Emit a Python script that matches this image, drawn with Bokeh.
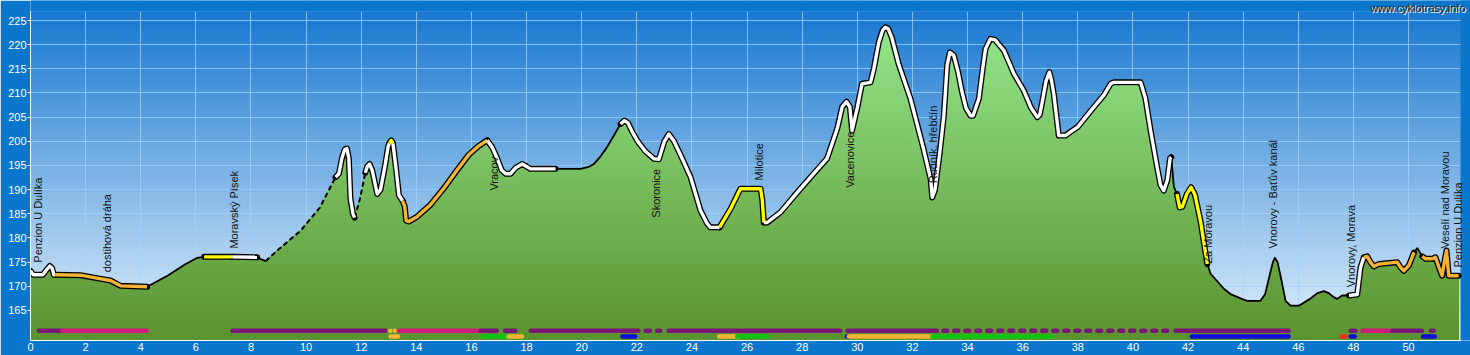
import numpy as np
from bokeh.plotting import figure
from bokeh.models import Range1d, FixedTicker
from bokeh.core.properties import value
from bokeh.embed import file_html
from bokeh.resources import INLINE

# ---------------- data ----------------
dist = [0.00, 0.10, 0.45, 0.58, 0.70, 0.78, 0.85, 0.90, 1.81, 2.40,
        2.90, 3.27, 4.23, 5.00, 5.60, 6.05, 6.30, 7.32, 8.22, 8.53,
        8.95, 9.80, 10.50, 11.07, 11.19, 11.30, 11.40, 11.48, 11.55, 11.61,
        11.70, 11.76, 11.95, 12.15, 12.22, 12.30, 12.40, 12.58, 12.70, 12.85,
        12.98, 13.02, 13.09, 13.15, 13.25, 13.37, 13.50, 13.58, 13.63, 13.72,
        14.00, 14.50, 15.00, 15.50, 15.90, 16.25, 16.57, 16.75, 16.93, 17.10,
        17.24, 17.42, 17.60, 17.84, 18.00, 18.14, 19.05, 19.96, 20.25, 20.44,
        20.70, 20.92, 21.20, 21.41, 21.55, 21.68, 21.85, 22.01, 22.30, 22.62,
        22.80, 23.00, 23.16, 23.35, 23.60, 23.95, 24.31, 24.55, 24.67, 25.00,
        25.40, 25.76, 26.49, 26.55, 26.61, 26.73, 27.21, 27.80, 28.40, 28.90,
        29.27, 29.45, 29.61, 29.73, 29.81, 29.99, 30.17, 30.48, 30.60, 30.78,
        30.92, 31.02, 31.12, 31.25, 31.50, 31.93, 32.40, 32.66, 32.72, 32.82,
        33.00, 33.14, 33.26, 33.36, 33.50, 33.65, 33.80, 33.95, 34.11, 34.20,
        34.41, 34.55, 34.65, 34.83, 35.00, 35.32, 35.68, 36.04, 36.30, 36.53,
        36.62, 36.70, 36.85, 36.97, 37.05, 37.13, 37.31, 37.55, 38.00, 38.50,
        38.94, 39.19, 39.30, 40.28, 40.45, 40.65, 40.88, 41.00, 41.12, 41.25,
        41.35, 41.39, 41.49, 41.60, 41.70, 41.80, 41.95, 42.11, 42.25, 42.45,
        42.70, 42.82, 43.30, 43.54, 44.00, 44.15, 44.63, 44.80, 44.95, 45.08,
        45.15, 45.25, 45.40, 45.54, 45.72, 46.02, 46.40, 46.70, 46.93, 47.10,
        47.30, 47.41, 47.59, 47.84, 48.14, 48.26, 48.38, 48.50, 48.62, 48.74,
        48.92, 49.59, 49.70, 49.83, 50.01, 50.20, 50.32, 50.50, 50.62, 50.86,
        50.98, 51.10, 51.22, 51.30, 51.38, 51.46, 51.82]
elev = [173.2, 172.4, 172.4, 173.4, 174.2, 173.8, 172.4, 172.4, 172.3, 171.7,
        171.2, 170.1, 169.9, 172.3, 174.5, 175.9, 176.1, 176.1, 176.0, 175.2,
        177.4, 181.5, 186.3, 192.6, 193.3, 196.5, 198.3, 198.5, 196.5, 188.1,
        185.0, 184.2, 188.0, 193.5, 194.8, 195.3, 194.0, 189.1, 190.0, 194.5,
        199.0, 199.6, 200.2, 199.6, 195.0, 188.8, 187.7, 186.5, 183.6, 183.4,
        184.3, 186.8, 190.3, 194.2, 197.2, 199.0, 200.2, 198.8, 196.5, 194.0,
        193.3, 193.3, 194.5, 195.3, 194.8, 194.3, 194.3, 194.3, 194.7, 195.3,
        197.0, 198.8, 201.5, 203.6, 204.3, 203.8, 201.8, 200.2, 198.0, 196.4,
        196.3, 200.0, 201.5, 200.0, 197.0, 192.6, 185.7, 183.0, 182.2, 182.2,
        186.0, 190.2, 190.2, 188.0, 183.2, 183.2, 185.3, 189.3, 193.2, 196.4,
        202.6, 207.1, 208.2, 207.1, 202.2, 206.7, 211.9, 212.2, 215.0, 220.5,
        223.0, 223.6, 223.3, 221.5, 216.0, 208.8, 198.5, 192.2, 188.4, 190.0,
        198.0, 205.3, 215.7, 218.4, 217.8, 214.5, 210.2, 206.8, 205.3, 205.3,
        208.8, 215.0, 219.1, 221.2, 221.0, 218.8, 214.0, 210.5, 207.0, 205.0,
        205.5, 207.8, 212.5, 214.3, 212.5, 209.8, 201.2, 201.2, 203.0, 206.5,
        209.5, 211.9, 212.2, 212.2, 209.0, 202.0, 194.6, 191.0, 189.8, 192.0,
        196.5, 196.7, 190.5, 189.1, 186.3, 186.5, 189.0, 190.5, 189.0, 183.6,
        174.6, 172.6, 169.5, 168.4, 167.3, 167.0, 167.0, 168.4, 172.0, 175.0,
        175.9, 175.0, 171.0, 167.0, 166.0, 166.0, 167.3, 168.6, 169.0, 168.6,
        167.7, 167.4, 168.1, 168.1, 168.3, 173.9, 176.0, 176.2, 175.0, 174.1,
        174.6, 175.0, 174.0, 173.2, 174.3, 177.0, 177.9, 176.2, 175.7, 175.7,
        176.0, 174.0, 172.2, 175.0, 177.4, 172.2, 172.2]

# route surface / type segments on the profile line
seg_start = [0.00, 0.90, 4.23, 6.30, 7.32, 8.22, 8.53, 11.07, 11.76, 12.15, 13.02, 13.15,
             13.50, 16.57, 19.05, 21.41, 25.00, 26.61, 41.39, 41.60, 42.70, 47.84, 48.38,
             50.20, 50.50]
seg_end = [0.90, 4.23, 6.30, 7.32, 8.22, 8.53, 11.07, 11.76, 12.15, 13.02, 13.15, 13.50,
           16.57, 19.05, 21.41, 25.00, 26.61, 41.39, 41.60, 42.70, 47.84, 48.38, 50.20,
           50.50, 51.82]
seg_style = ["white", "orange", "thin", "yellow", "white", "thin", "dash", "white", "dash",
             "white", "yellow", "white", "orange", "white", "thin", "white", "yellow",
             "white", "thin", "yellow", "thin", "white", "orange", "thin", "orange"]

# places
label_text = ["Penzion U Dulíka", "dostihová dráha", "Moravský Písek", "Vracov", "Skoronice",
              "Milotice", "Vacenovice", "Rudník, hřebčín", "Za Moravou",
              "Vnorovy - Baťův kanál", "Vnorovy, Morava", "Veselí nad Moravou",
              "Penzion U Dulíka"]
label_km = [0.29, 2.79, 7.37, 16.80, 22.71, 26.45, 29.75, 32.76, 42.74, 45.10, 47.90, 51.31, 51.81]
label_elev = [174.9, 172.9, 177.8, 189.8, 184.2, 191.9, 190.4, 191.3, 174.7, 177.8, 169.8, 177.8, 173.9]

# bottom category bars (row 1 and row 2)
bar1_start = [0.30, 1.15, 7.33, 13.05, 13.22, 13.37, 16.33, 17.22, 18.15, 22.32, 22.74, 23.15,
              29.64, 33.12, 41.55, 47.90, 48.33, 49.41, 50.81]
bar1_end = [1.15, 4.21, 12.87, 13.05, 13.22, 16.33, 16.92, 17.59, 22.06, 22.48, 22.85, 29.38,
            32.89, 41.30, 45.65, 48.07, 49.41, 50.49, 50.91]
bar1_kind = ["purple", "magenta", "purple", "orange", "orange", "magenta", "purple", "purple",
             "purple", "purple", "purple", "purple", "purple", "purple_dots", "purple",
             "purple", "magenta", "purple", "purple"]
bar2_start = [13.07, 16.40, 17.35, 21.48, 24.99, 25.64, 29.62, 29.69, 32.72, 42.14, 47.58,
              47.90, 50.53]
bar2_end = [13.33, 17.35, 17.83, 21.94, 25.64, 26.72, 29.69, 32.72, 37.06, 45.65, 47.71,
            48.04, 50.95]
bar2_kind = ["orange", "green", "orange", "blue", "orange", "green", "blue", "orange", "green",
             "blue", "red", "blue", "blue"]

x_ticks = list(range(0, 51, 2))
y_ticks = list(range(165, 226, 5))
watermark = "www.cyklotrasy.info"

# ---------------- geometry / style ----------------
PX_PER_KM = 27.56
PX_PER_M = 4.833
X_PLOT_END = 1430 / PX_PER_KM          # right edge of the chart area
X_END = 1440 / PX_PER_KM               # right edge of the canvas
Y0 = 225 - (340 - 20) / PX_PER_M       # frame bottom
Y_TOP_PLOT = 225 + (20 - 11) / PX_PER_M
Y_END = 225 + 20 / PX_PER_M

OUTER = "#0a76cc"
SKY_TOP, SKY_BOT = (24, 120, 208), (226, 240, 251)
GRN_TOP, GRN_BOT = (150, 234, 143), (90, 146, 46)
FONT = value("Liberation Sans")

COLORS = {"purple": "#7a1677", "purple_dots": "#7a1677", "magenta": "#cf1a7c",
          "orange": "#f5b335", "green": "#12c412", "blue": "#0a0ad8", "red": "#ee2a10"}
INNER = {"white": "#ffffff", "yellow": "#ffff00", "orange": "#f5b335"}


def mix(c_bot, c_top, t):
    r, g, b = (int(round(c_bot[i] + (c_top[i] - c_bot[i]) * t)) for i in range(3))
    return "#%02x%02x%02x" % (r, g, b)


d = np.array(dist)
el = np.array(elev)

p = figure(width=1470, height=355, output_backend="svg", toolbar_location=None,
           x_range=Range1d(0, X_END), y_range=Range1d(Y0, Y_END),
           min_border_left=30, min_border_right=0, min_border_top=0, min_border_bottom=15)
p.border_fill_color = OUTER
p.background_fill_color = mix(SKY_BOT, SKY_TOP, 0.5)
p.outline_line_color = None

# sky gradient (below grid)
nb = 80
edges = np.linspace(Y0, Y_TOP_PLOT, nb + 1)
tops = edges[1:][::-1]
step = edges[1] - edges[0]
cols = [mix(SKY_BOT, SKY_TOP, ((t - step / 2) - Y0) / (Y_TOP_PLOT - Y0)) for t in tops]
p.quad(left=0, right=X_END, bottom=Y0 - 1, top=tops, fill_color=cols, line_color=None,
       level="image")

# grid
p.xgrid.ticker = FixedTicker(ticks=x_ticks)
p.ygrid.ticker = FixedTicker(ticks=y_ticks)
for g in (p.xgrid, p.ygrid):
    g.grid_line_color = "#9fd4ff"
    g.grid_line_alpha = 0.75
    g.grid_line_width = 1

# green terrain gradient
ng = 70
gedges = np.linspace(Y0, Y_TOP_PLOT, ng + 1)
for j in range(ng, 0, -1):
    b = gedges[j]
    cen = (gedges[j] + gedges[j - 1]) / 2
    col = mix(GRN_BOT, GRN_TOP, (cen - Y0) / (Y_TOP_PLOT - Y0))
    p.varea(x=d, y1=Y0 - 1, y2=np.minimum(el, b), fill_color=col)

# outer frame strips (top and right)
p.quad(left=[0, X_PLOT_END], right=[X_END + 1, X_END + 1], bottom=[Y_TOP_PLOT, Y0 - 1],
       top=[Y_END + 1, Y_END + 1], fill_color=OUTER, line_color=None)

# bottom bars
ROW1 = 225 - (330.3 - 20) / PX_PER_M
ROW2 = 225 - (336 - 20) / PX_PER_M
for starts, ends, kinds, row in ((bar1_start, bar1_end, bar1_kind, ROW1),
                                  (bar2_start, bar2_end, bar2_kind, ROW2)):
    for s, e, k in zip(starts, ends, kinds):
        kw = dict(line_dash="4 7") if k == "purple_dots" else {}
        p.segment(x0=[s], y0=[row], x1=[e], y1=[row], line_color=COLORS[k], line_width=4.5,
                  line_cap="round", **kw)

# profile line
pieces = []
for s, e, st in zip(seg_start, seg_end, seg_style):
    m = (d >= s - 1e-9) & (d <= e + 1e-9)
    pieces.append((d[m], el[m], st))
for xs, ys, st in pieces:
    if st == "thin":
        p.line(xs, ys, line_color="black", line_width=1.8, line_join="round")
    elif st == "dash":
        p.line(xs, ys, line_color="black", line_width=2, line_dash="5 3")
for xs, ys, st in pieces:
    if st in INNER:
        p.line(xs, ys, line_color="black", line_width=6, line_join="round", line_cap="round")
for xs, ys, st in pieces:
    if st in INNER:
        p.line(xs, ys, line_color=INNER[st], line_width=3.4, line_join="round", line_cap="butt")

# place labels
p.text(x=label_km, y=label_elev, text=label_text, angle=np.pi / 2, text_align="left",
       text_baseline="middle", text_font=FONT, text_font_size="11px", text_color="#111111")

# watermark
WX = (1465 - 30) / PX_PER_KM
WY = 225 - (7 - 20) / PX_PER_M
p.text(x=[WX], y=[WY], text=[watermark], text_align="right", text_baseline="middle",
       text_font=FONT, text_font_size="11px", text_color="#ffffff", x_offset=1, y_offset=1)
p.text(x=[WX], y=[WY], text=[watermark], text_align="right", text_baseline="middle",
       text_font=FONT, text_font_size="11px", text_color="#2a2a2a")

# axes
p.xaxis.ticker = FixedTicker(ticks=x_ticks)
p.yaxis.ticker = FixedTicker(ticks=y_ticks)
p.xaxis.bounds = (0, X_PLOT_END)
p.yaxis.bounds = (Y0, Y_TOP_PLOT)
for ax in (p.xaxis, p.yaxis):
    ax.axis_line_color = "white"
    ax.major_tick_line_color = "white"
    ax.minor_tick_line_color = None
    ax.major_label_text_color = "white"
    ax.major_label_text_font = "Liberation Sans"
    ax.major_label_text_font_size = "11px"
    ax.major_tick_in = 0
p.xaxis.major_tick_out = 0
p.xaxis.major_label_standoff = 2
p.yaxis.major_tick_out = 3
p.yaxis.major_label_standoff = 1

open("out.html", "w").write(file_html(p, INLINE))
